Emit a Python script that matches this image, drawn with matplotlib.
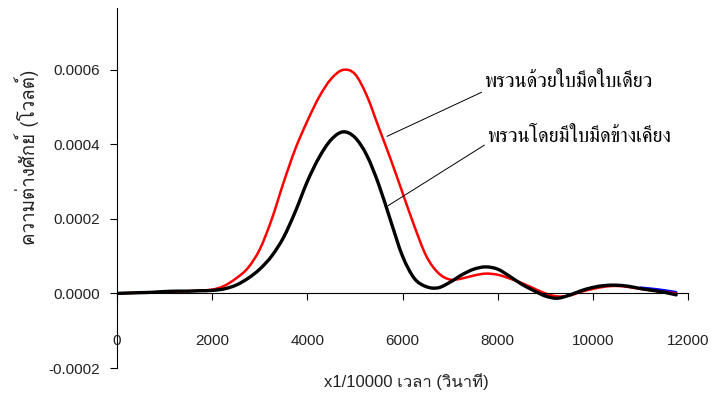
import matplotlib
matplotlib.use('Agg')
import matplotlib.pyplot as plt
import numpy as np
from matplotlib.path import Path
from matplotlib.patches import PathPatch

# เวลา (x1/10000 วินาที)
time_ticks = [0, 2000, 4000, 6000, 8000, 10000, 12000]
volt_ticks = [-0.0002, 0.0, 0.0002, 0.0004, 0.0006]

t = np.arange(0, 12000, 250)

# พรวนด้วยใบมีดใบเดียว (สีแดง)
single_blade = [0, 0.000001, 0.000002, 0.000003, 0.000004, 0.000005, 0.000006, 0.000008,
                0.000010, 0.000020, 0.000040, 0.000068, 0.000118, 0.000198, 0.000297, 0.000388,
                0.000462, 0.000527, 0.000575, 0.000599, 0.000588, 0.000530, 0.000445, 0.000360,
                0.000270, 0.000180, 0.000100, 0.000055, 0.000037, 0.000040, 0.000048, 0.000053,
                0.000050, 0.000040, 0.000028, 0.000014, 0.000000, -0.000008, -0.000006, 0.000004,
                0.000012, 0.000018, 0.000020, 0.000017, 0.000012, 0.000008, 0.000004, 0.000000]

# พรวนโดยมีใบมีดข้างเคียง (สีดำ)
side_blades = [0, 0.000001, 0.000002, 0.000003, 0.000005, 0.000006, 0.000006, 0.000007,
               0.000008, 0.000012, 0.000022, 0.000040, 0.000065, 0.000100, 0.000150, 0.000220,
               0.000300, 0.000365, 0.000412, 0.000433, 0.000418, 0.000370, 0.000292, 0.000195,
               0.000100, 0.000040, 0.000018, 0.000015, 0.000030, 0.000050, 0.000065, 0.000071,
               0.000065, 0.000046, 0.000025, 0.000008, -0.000007, -0.000013, -0.000005, 0.000007,
               0.000016, 0.000021, 0.000022, 0.000019, 0.000013, 0.000008, 0.000003, -0.000004]

# เส้นสีน้ำเงิน (เห็นแค่ช่วงท้าย)
blue_t = [11000, 11250, 11500, 11750]
blue_v = [0.000015, 0.000012, 0.000008, 0.000003]


def smooth_line(ax, x, y, **kw):
    # เส้นโค้งแบบ Excel (Catmull-Rom -> Bezier)
    p = np.column_stack([x, y]).astype(float)
    n = len(p)
    verts = [p[0]]
    codes = [Path.MOVETO]
    for i in range(n - 1):
        p0 = p[max(i - 1, 0)]
        p1 = p[i]
        p2 = p[i + 1]
        p3 = p[min(i + 2, n - 1)]
        verts += [p1 + (p2 - p0) / 6, p2 - (p3 - p1) / 6, p2]
        codes += [Path.CURVE4] * 3
    patch = PathPatch(Path(verts, codes), fill=False, capstyle='round', joinstyle='round', **kw)
    ax.add_patch(patch)


fig = plt.figure(figsize=(7.27, 3.94), dpi=100)
ax = fig.add_axes([117 / 727, 1 - 368 / 394, (688 - 117) / 727, (368 - 8) / 394])

smooth_line(ax, blue_t, blue_v, edgecolor='blue', lw=2)
smooth_line(ax, t, single_blade, edgecolor='red', lw=1.8)
smooth_line(ax, t, side_blades, edgecolor='black', lw=2.4)

ax.set_xlim(0, 12000)
ax.set_ylim(-0.0002, 0.000765)
ax.set_xticks(time_ticks)
ax.set_yticks(volt_ticks)
ax.set_yticklabels(['%.4f' % v for v in volt_ticks])

ax.spines['top'].set_visible(False)
ax.spines['right'].set_visible(False)
ax.spines['bottom'].set_position(('data', 0))
ax.spines['bottom'].set_linewidth(0.8)
ax.spines['left'].set_linewidth(0.8)
ax.tick_params(axis='x', direction='out', length=5, width=0.8, pad=24, labelsize=11)
ax.tick_params(axis='y', direction='out', length=5, width=0.8, pad=7, labelsize=11)
for lab in ax.get_xticklabels() + ax.get_yticklabels():
    lab.set_family('Liberation Sans')
    lab.set_color('#222222')

ax.set_ylabel('ความต่างศักย์ (โวลต์)', family=['Loma', 'Liberation Sans'], fontsize=13.5,
              color='#222222')
ax.yaxis.set_label_coords((39 - 117) / 571, (368 - 157) / 360)
fig.text(406 / 727, 1 - 382 / 394, 'x1/10000 เวลา (วินาที)', family=['Liberation Sans', 'Loma'],
         fontsize=12, ha='center', va='center', color='#222222')

ax.annotate('พรวนด้วยใบมีดใบเดียว', xy=(5675, 0.000421), xytext=(7720, 0.000568),
            family='FreeSerif', fontsize=14.5, va='center', ha='left',
            arrowprops=dict(arrowstyle='-', color='black', lw=0.7, shrinkA=0, shrinkB=0,
                            relpos=(0, 0.0)))
ax.annotate('พรวนโดยมีใบมีดข้างเคียง', xy=(5696, 0.000235), xytext=(7780, 0.000420),
            family='FreeSerif', fontsize=14.5, va='center', ha='left',
            arrowprops=dict(arrowstyle='-', color='black', lw=0.7, shrinkA=0, shrinkB=0,
                            relpos=(0, 0.15)))

fig.savefig('out.png')
